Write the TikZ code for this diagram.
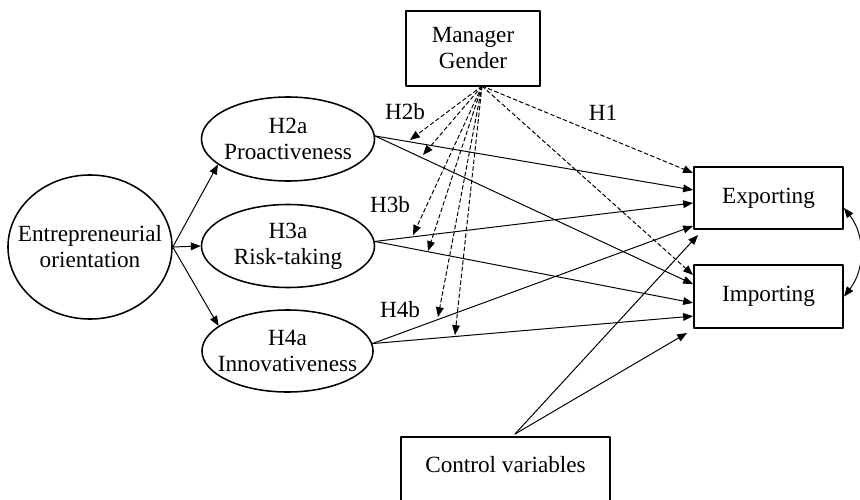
\documentclass[tikz,border=0pt]{standalone}
\usepackage{fontspec}
\setmainfont{Liberation Serif}
\usetikzlibrary{arrows.meta,shapes.geometric}

\begin{document}
\begin{tikzpicture}[line cap=round,line join=round,>={Triangle[length=7pt,width=5.5pt]},x=0.025cm,y=-0.025cm,
		every node/.style={font=\fontsize{16.5}{18.5}\selectfont},
		box/.style={draw,rectangle,line width=1.4pt,align=center},
		oval/.style={draw,ellipse,line width=1.1pt,inner xsep=-12pt,inner ysep=0pt,align=center},
		link/.style={->,line width=0.7pt},
		moder/.style={->,line width=0.7pt,dash pattern=on 2.8pt off 2pt}]
				\clip (0,0) rectangle (860,499);
				% constructs
				\node[oval,minimum width=4.1cm,minimum height=3.6cm] (eo) at (90,247) {Entrepreneurial\\orientation};
				\node[oval,minimum width=4.325cm,minimum height=2.1cm] (h2a) at (288,139) {H2a\\Proactiveness};
				\node[oval,minimum width=4.325cm,minimum height=2.075cm] (h3a) at (288,246) {H3a\\Risk-taking};
				\node[oval,minimum width=4.275cm,minimum height=2.05cm] (h4a) at (287.5,351) {H4a\\Innovativeness};
				\node[box,minimum width=3.35cm,minimum height=1.875cm] (mg) at (473,48.5) {Manager\\Gender};
				\node[box,minimum width=3.725cm,minimum height=1.55cm] (exp) at (768.5,198) {Exporting};
				\node[box,minimum width=3.725cm,minimum height=1.575cm] (imp) at (768.5,296.5) {Importing};
				\node[box,minimum width=5.225cm,minimum height=2.2cm,text depth=24pt] (ctrl) at (505.5,481) {Control variables};
				% labels
				\node (lh1) at (603,113) {H1};
				\node (lh2b) at (405,112) {H2b};
				\node (lh3b) at (390,205) {H3b};
				\node (lh4b) at (400,310) {H4b};
				% feet and moderation tips
				\coordinate (mgfoot) at (482,86);
				\coordinate (ctrlfoot) at (515,434);
				\coordinate (t2e) at (410,140);
				\coordinate (t2i) at (423,155);
				\coordinate (t3e) at (413,235);
				\coordinate (t3i) at (428,251);
				\coordinate (t4e) at (438,317);
				\coordinate (t4i) at (455,335);
				% EO dimensions
				\draw[link] (eo.east) -- (h2a.200);
				\draw[link] (eo.east) -- (h3a.west);
				\draw[link] (eo.east) -- (h4a.160);
				% main effects
				\draw[link] (h2a.2) -- ([yshift=0.2cm]exp.west);
				\draw[link] (h2a.2) -- ([yshift=0.31cm]imp.west);
				\draw[link] (h3a.3) -- ([yshift=-0.125cm]exp.west);
				\draw[link] (h3a.3) -- ([yshift=-0.16cm]imp.west);
				\draw[link] (h4a.5) -- ([yshift=-0.7cm]exp.west);
				\draw[link] (h4a.5) -- ([yshift=-0.49cm]imp.west);
				\draw[link] (ctrlfoot) -- ([xshift=0.125cm,yshift=-0.125cm]exp.south west);
				\draw[link] (ctrlfoot) -- ([xshift=-0.15cm,yshift=-0.1cm]imp.south west);
				\draw[<->,line width=0.7pt] ([yshift=-0.25cm]exp.east) to[bend left=38] (imp.east);
				% manager gender
				\draw[moder] (mgfoot) -- ([yshift=0.625cm]exp.west);
				\draw[moder] (mgfoot) -- ([yshift=0.54cm]imp.west);
				\draw[moder] (mgfoot) -- (t2e);
				\draw[moder] (mgfoot) -- (t2i);
				\draw[moder] (mgfoot) -- (t3e);
				\draw[moder] (mgfoot) -- (t3i);
				\draw[moder] (mgfoot) -- (t4e);
				\draw[moder] (mgfoot) -- (t4i);
			\end{tikzpicture}
\end{document}
